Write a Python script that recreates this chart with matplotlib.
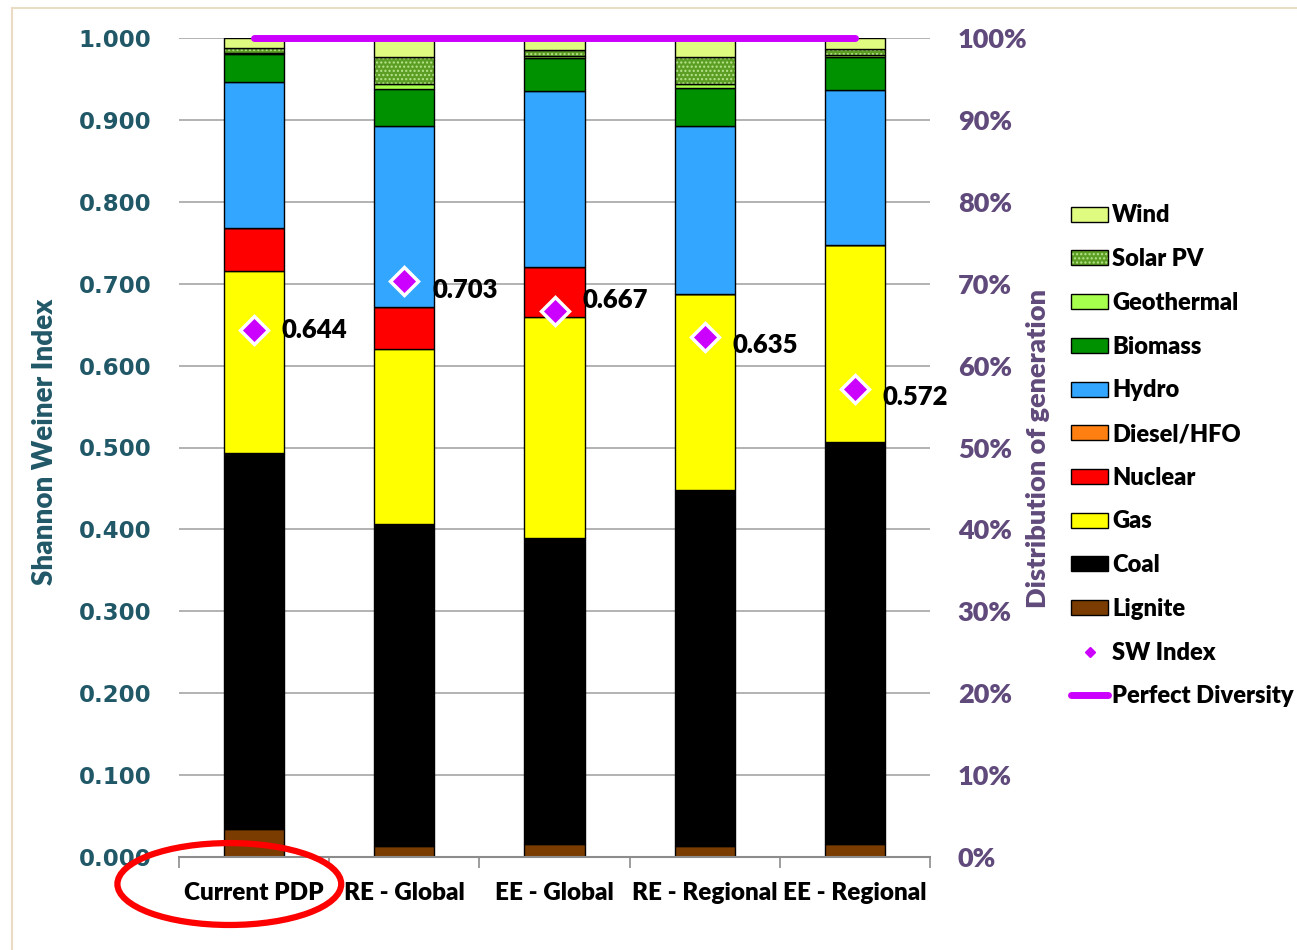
import numpy as np
import matplotlib.pyplot as plt
from matplotlib.patches import Patch, Ellipse, Rectangle
from matplotlib.lines import Line2D
from matplotlib.legend_handler import HandlerTuple
from matplotlib.ticker import FuncFormatter, FixedLocator

# ---- data: share of generation per scenario (bottom to top) ----
scenarios = ["Current PDP", "RE - Global", "EE - Global", "RE - Regional", "EE - Regional"]

lignite    = [0.034, 0.014, 0.016, 0.014, 0.016]
coal       = [0.459, 0.393, 0.373, 0.434, 0.491]
gas        = [0.222, 0.213, 0.270, 0.239, 0.240]
nuclear    = [0.053, 0.052, 0.062, 0.000, 0.000]
diesel_hfo = [0.000, 0.000, 0.000, 0.000, 0.000]
hydro      = [0.178, 0.221, 0.214, 0.206, 0.190]
biomass    = [0.034, 0.045, 0.041, 0.046, 0.040]
geothermal = [0.002, 0.006, 0.002, 0.005, 0.002]
solar_pv   = [0.006, 0.033, 0.007, 0.033, 0.007]
wind       = [0.012, 0.023, 0.015, 0.023, 0.014]

sw_index = [0.644, 0.703, 0.667, 0.635, 0.572]
perfect_diversity = 1.0

left_ticks = [0.0, 0.1, 0.2, 0.3, 0.4, 0.5, 0.6, 0.7, 0.8, 0.9, 1.0]

# ---- styles ----
TEAL = "#215868"
PURPLE = "#604A7B"
MAGENTA = "#CC00FF"
CAL = ["Lato", "DejaVu Sans"]
HEAVY = "heavy"

stack = [
    ("Lignite", lignite, "#7A3C00"),
    ("Coal", coal, "#000000"),
    ("Gas", gas, "#FFFF00"),
    ("Nuclear", nuclear, "#FF0000"),
    ("Diesel/HFO", diesel_hfo, "#FF8010"),
    ("Hydro", hydro, "#33A6FF"),
    ("Biomass", biomass, "#009100"),
    ("Geothermal", geothermal, "#A6FF4D"),
    ("Solar PV", solar_pv, "#5C9E24"),
    ("Wind", wind, "#DFFC80"),
]

fig = plt.figure(figsize=(12.97, 9.5), dpi=100)
ax = fig.add_axes([179 / 1297, 1 - 857 / 950, 751 / 1297, 819 / 950])

x = np.arange(len(scenarios))
width = 0.4
bottom = np.zeros(len(scenarios))
handles = {}
for name, vals, color in stack:
    vals = np.array(vals)
    if name == "Solar PV":
        ax.bar(x, vals, width, bottom=bottom, color=color, edgecolor="#B9E58E",
               hatch="....", linewidth=0, zorder=2)
        ax.bar(x, vals, width, bottom=bottom, fill=False, edgecolor="black",
               linewidth=1, zorder=2)
        handles[name] = (Patch(facecolor=color, edgecolor="#B9E58E", hatch="....", linewidth=0),
                         Patch(fill=False, edgecolor="black", linewidth=1))
    else:
        ax.bar(x, vals, width, bottom=bottom, color=color, edgecolor="black",
               linewidth=1, zorder=2)
        handles[name] = Patch(facecolor=color, edgecolor="black", linewidth=1)
    bottom += vals

# Shannon-Weiner index markers and labels
ax.plot(x, sw_index, linestyle="none", marker="D", markersize=14,
        markerfacecolor=MAGENTA, markeredgecolor="white", markeredgewidth=2.5, zorder=5)
label_dy = [0, -6, 8, -6, -6]
for xi, v, dy in zip(x, sw_index, label_dy):
    ax.annotate(f"{v:.3f}", (xi, v), xytext=(20, dy), textcoords="offset points",
                va="center", ha="left", fontsize=18.5, fontweight=HEAVY,
                family=CAL, color="black", zorder=6)

# perfect diversity reference line
ax.plot([x[0], x[-1]], [perfect_diversity, perfect_diversity], color=MAGENTA,
        linewidth=5, solid_capstyle="round", zorder=4, clip_on=False)

ax.set_xlim(-0.5, len(scenarios) - 0.5)
ax.set_ylim(0, 1.0)
ax.set_yticks(left_ticks)
ax.yaxis.set_major_formatter(FuncFormatter(lambda v, p: f"{v:.3f}"))
ax.tick_params(axis="y", length=0, pad=20, labelsize=16.5, labelcolor=TEAL)
for lab in ax.get_yticklabels():
    lab.set_fontweight("bold")
ax.grid(axis="y", color="#A6A6A6", linewidth=1.2)
ax.set_axisbelow(True)

ax.set_xticks(x)
ax.set_xticklabels(scenarios, fontsize=17.5, fontweight=HEAVY, family=CAL)
ax.xaxis.set_minor_locator(FixedLocator(np.arange(-0.5, len(scenarios), 1.0)))
ax.tick_params(axis="x", which="major", length=0, pad=18)
ax.tick_params(axis="x", which="minor", length=8, width=1.2, color="#8C8C8C", direction="out")

for s in ["left", "right", "top"]:
    ax.spines[s].set_visible(False)
ax.spines["bottom"].set_color("#8C8C8C")
ax.spines["bottom"].set_linewidth(1.5)

ax.set_ylabel("Shannon Weiner Index", fontsize=20, fontweight=HEAVY, color=TEAL,
              family=CAL)
ax.yaxis.set_label_coords((58 - 179) / 751, (857 - 442) / 819)

# right-hand percentage axis
ax2 = ax.twinx()
ax2.set_ylim(0, 1.0)
ax2.set_yticks(left_ticks)
ax2.yaxis.set_major_formatter(FuncFormatter(lambda v, p: f"{v * 100:.0f}%"))
ax2.tick_params(axis="y", length=0, pad=20, labelsize=19.5, labelcolor=PURPLE)
for lab in ax2.get_yticklabels():
    lab.set_fontweight(HEAVY)
    lab.set_family(CAL)
for s in ax2.spines.values():
    s.set_visible(False)
ax2.set_ylabel("Distribution of generation", fontsize=19.5, fontweight=HEAVY,
               color=PURPLE, family=CAL)
ax2.yaxis.set_label_coords((1026 - 179) / 751, (857 - 448) / 819)

# red ring around the current plan label
ax.add_patch(Ellipse((-0.165, -0.033), 1.49, 0.10, fill=False, edgecolor="#FF0000",
                     linewidth=4.5, clip_on=False, zorder=10))

# legend
order = ["Wind", "Solar PV", "Geothermal", "Biomass", "Hydro", "Diesel/HFO",
         "Nuclear", "Gas", "Coal", "Lignite"]
leg_handles = [handles[n] for n in order]
leg_handles.append(Line2D([], [], linestyle="none", marker="D", markersize=5,
                          markerfacecolor=MAGENTA, markeredgecolor=MAGENTA))
leg_handles.append(Line2D([], [], color=MAGENTA, linewidth=5, solid_capstyle="round"))
leg_labels = order + ["SW Index", "Perfect Diversity"]
leg = fig.legend(leg_handles, leg_labels, loc="upper left",
                 bbox_to_anchor=(1062 / 1297, 1 - 195 / 950), frameon=False,
                 prop={"family": CAL, "weight": HEAVY, "size": 17},
                 handlelength=1.53, handleheight=0.6, handletextpad=0.2,
                 labelspacing=0.92, borderaxespad=0,
                 handler_map={tuple: HandlerTuple(ndivide=1, pad=0)})

# outer chart border
fig.add_artist(Rectangle((12 / 1297, -0.1), 1.2, 1 - 8 / 950 + 0.1, fill=False,
                         edgecolor="#EADCC4", linewidth=1.5, transform=fig.transFigure))

fig.savefig("out.png", dpi=100)
